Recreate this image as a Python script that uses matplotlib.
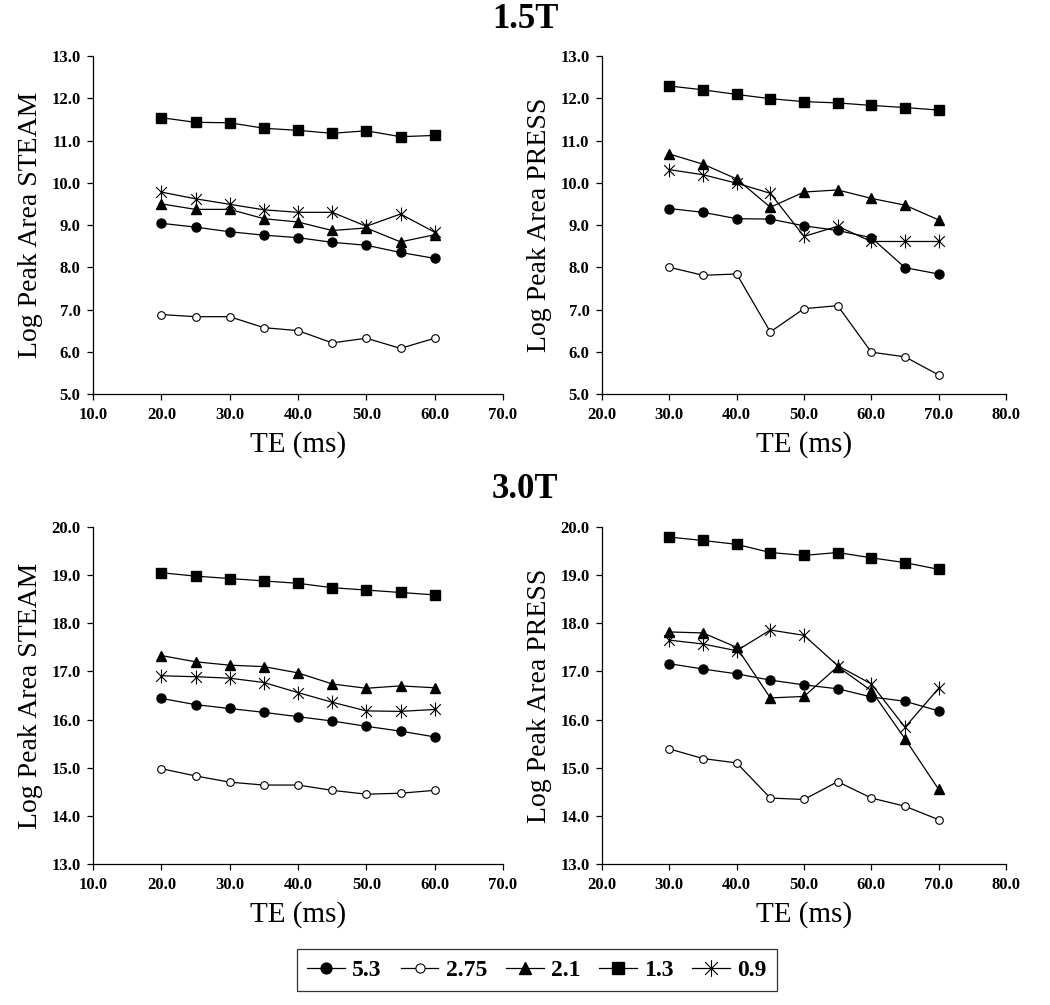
import matplotlib
matplotlib.use("Agg")
import matplotlib.pyplot as plt
import numpy as np
from matplotlib.path import Path
from matplotlib.lines import Line2D

plt.rcParams.update(
    {
        "font.family": ["Liberation Serif", "DejaVu Serif"],
        "axes.linewidth": 0.9,
    }
)

# TE values (ms)
te_steam = [20, 25, 30, 35, 40, 45, 50, 55, 60]
te_press = [30, 35, 40, 45, 50, 55, 60, 65, 70]

series_labels = ["5.3", "2.75", "2.1", "1.3", "0.9"]

# 1.5T STEAM
steam15_53 = [9.04, 8.95, 8.84, 8.76, 8.70, 8.59, 8.52, 8.35, 8.21]
steam15_275 = [6.88, 6.83, 6.83, 6.57, 6.50, 6.21, 6.32, 6.08, 6.32]
steam15_21 = [9.50, 9.37, 9.37, 9.15, 9.07, 8.87, 8.93, 8.60, 8.77]
steam15_13 = [11.54, 11.43, 11.42, 11.29, 11.24, 11.17, 11.23, 11.09, 11.12]
steam15_09 = [9.78, 9.62, 9.49, 9.36, 9.30, 9.30, 8.97, 9.26, 8.83]

# 1.5T PRESS
press15_53 = [9.39, 9.30, 9.15, 9.14, 8.98, 8.87, 8.70, 7.99, 7.84]
press15_275 = [8.00, 7.81, 7.84, 6.47, 7.02, 7.09, 5.99, 5.88, 5.45]
press15_21 = [10.68, 10.44, 10.09, 9.42, 9.78, 9.83, 9.63, 9.47, 9.12]
press15_13 = [12.29, 12.20, 12.09, 11.99, 11.92, 11.89, 11.83, 11.78, 11.72]
press15_09 = [10.31, 10.19, 9.99, 9.75, 8.73, 8.97, 8.61, 8.61, 8.61]

# 3.0T STEAM
steam30_53 = [16.44, 16.31, 16.23, 16.15, 16.06, 15.97, 15.86, 15.76, 15.64]
steam30_275 = [14.98, 14.83, 14.70, 14.64, 14.64, 14.53, 14.45, 14.47, 14.53]
steam30_21 = [17.33, 17.20, 17.13, 17.10, 16.97, 16.74, 16.65, 16.70, 16.66]
steam30_13 = [19.05, 18.98, 18.93, 18.88, 18.83, 18.74, 18.69, 18.64, 18.59]
steam30_09 = [16.91, 16.89, 16.86, 16.77, 16.56, 16.36, 16.18, 16.17, 16.21]

# 3.0T PRESS
press30_53 = [17.16, 17.05, 16.95, 16.82, 16.72, 16.64, 16.47, 16.38, 16.18]
press30_275 = [15.39, 15.19, 15.10, 14.37, 14.34, 14.71, 14.37, 14.20, 13.92]
press30_21 = [17.82, 17.80, 17.50, 16.45, 16.48, 17.10, 16.60, 15.60, 14.55]
press30_13 = [19.79, 19.72, 19.64, 19.47, 19.41, 19.47, 19.36, 19.26, 19.12]
press30_09 = [17.65, 17.57, 17.43, 17.86, 17.75, 17.12, 16.74, 15.84, 16.65]

# Excel-like star: X plus vertical bar
star = Path(
    [(-1, -1), (1, 1), (-1, 1), (1, -1), (0, -1.3), (0, 1.3)],
    [Path.MOVETO, Path.LINETO, Path.MOVETO, Path.LINETO, Path.MOVETO, Path.LINETO],
)

styles = [
    dict(marker="o", markersize=6.5, markerfacecolor="black"),
    dict(marker="o", markersize=5.5, markerfacecolor="white", markeredgewidth=0.8),
    dict(marker="^", markersize=7, markerfacecolor="black"),
    dict(marker="s", markersize=7, markerfacecolor="black"),
    dict(marker=star, markersize=10, markerfacecolor="none", markeredgewidth=0.8),
]

panels = [
    (te_steam, [steam15_53, steam15_275, steam15_21, steam15_13, steam15_09],
     "Log Peak Area STEAM", (10, 70), (5, 13)),
    (te_press, [press15_53, press15_275, press15_21, press15_13, press15_09],
     "Log Peak Area PRESS", (20, 80), (5, 13)),
    (te_steam, [steam30_53, steam30_275, steam30_21, steam30_13, steam30_09],
     "Log Peak Area STEAM", (10, 70), (13, 20)),
    (te_press, [press30_53, press30_275, press30_21, press30_13, press30_09],
     "Log Peak Area PRESS", (20, 80), (13, 20)),
]

W, H = 1050, 1005
boxes = [
    (93, 503, 56, 394),
    (602, 1006, 56, 394),
    (93, 503, 527, 864),
    (602, 1006, 527, 864),
]

fig = plt.figure(figsize=(W / 100, H / 100), dpi=100)

for (x, ys, ylabel, xlim, ylim), (l, r, t, b) in zip(panels, boxes):
    ax = fig.add_axes([l / W, (H - b) / H, (r - l) / W, (b - t) / H])
    for y, st in zip(ys, styles):
        ax.plot(x, y, color="black", linewidth=0.9, markeredgecolor="black", **st)
    ax.set_xlim(*xlim)
    ax.set_ylim(*ylim)
    ax.set_xticks(np.arange(xlim[0], xlim[1] + 1, 10))
    ax.set_yticks(np.arange(ylim[0], ylim[1] + 1, 1))
    ax.xaxis.set_major_formatter(lambda v, _: f"{v:.1f}")
    ax.yaxis.set_major_formatter(lambda v, _: f"{v:.1f}")
    for lab in ax.get_xticklabels() + ax.get_yticklabels():
        lab.set_fontweight("bold")
        lab.set_fontsize(12)
    ax.tick_params(direction="out", length=4, width=0.9, color="black", pad=5)
    ax.spines["top"].set_visible(False)
    ax.spines["right"].set_visible(False)
    ax.set_xlabel("TE (ms)", fontsize=21, labelpad=6)
    ax.set_ylabel(ylabel, fontsize=20, labelpad=6)

fig.text(525 / W, 1 - 20 / H, "1.5T", ha="center", va="center",
         fontsize=25, fontweight="bold")
fig.text(525 / W, 1 - 490 / H, "3.0T", ha="center", va="center",
         fontsize=25, fontweight="bold")

handles = [Line2D([], [], color="black", linewidth=0.9, markeredgecolor="black", **st)
           for st in styles]
leg = fig.legend(
    handles, series_labels, loc="center", bbox_to_anchor=(537 / W, 1 - 970 / H),
    ncol=5, frameon=True, fancybox=False, edgecolor="black",
    prop={"weight": "bold", "size": 17}, handlelength=1.6, handletextpad=0.3,
    columnspacing=0.8, borderpad=0.45, markerscale=1.2,
)
leg.get_frame().set_linewidth(0.9)

fig.savefig("out.png", dpi=100)
